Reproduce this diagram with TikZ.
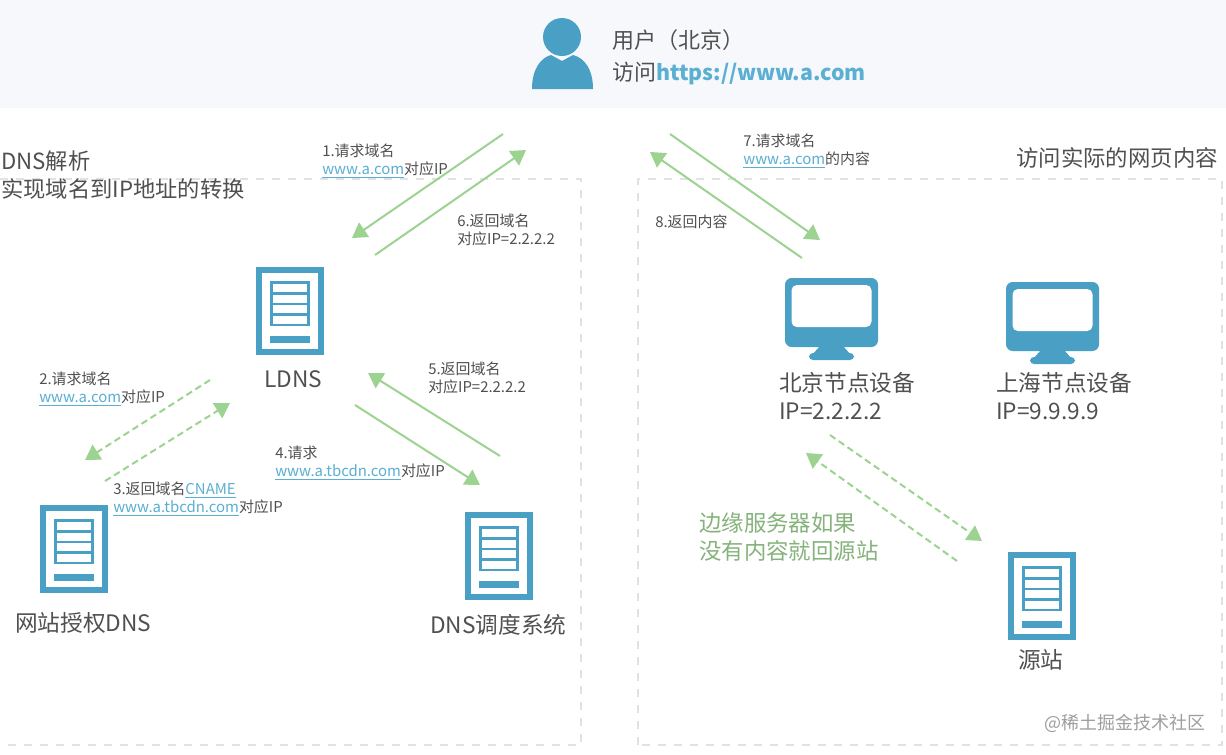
\documentclass[tikz,border=0pt]{standalone}
\usepackage{fontspec}
\setmainfont{Noto Sans CJK SC}
\usetikzlibrary{arrows.meta}
\definecolor{iconblue}{HTML}{4A9FC5}
\definecolor{arrowgreen}{HTML}{9CD391}
\definecolor{textgrey}{HTML}{505050}
\definecolor{linkblue}{HTML}{5AAFD2}
\definecolor{bandgrey}{HTML}{F6F8FB}
\definecolor{boxgrey}{HTML}{E2E2E2}
\newcommand{\lnk}[1]{\textcolor{linkblue}{\underline{#1}}}
\tikzset{
  big/.style={anchor=north west, align=left, inner sep=0pt, text=textgrey, font=\fontsize{17pt}{21pt}\selectfont},
  small/.style={anchor=north west, align=left, inner sep=0pt, text=textgrey, font=\fontsize{11.2pt}{13.5pt}\selectfont},
  ans/.style={draw=arrowgreen, line width=1.5pt, -{Triangle[length=11pt,width=13pt]}},
  ansd/.style={ans, dash pattern=on 5pt off 3pt},
  box/.style={draw=boxgrey, line width=1pt, dash pattern=on 6pt off 6pt},
  serverico/.pic={
    \fill[iconblue] (0,0) rectangle (68,88);
    \fill[white] (6,6) rectangle (62,82);
    \fill[iconblue] (14,14) rectangle (54,59);
    \foreach \r in {17,27.5,38,48.5} \fill[white] (17,\r) rectangle (51,\r+8);
    \fill[iconblue] (14,69) rectangle (54,76);
  },
  monitorico/.pic={
    \fill[iconblue, rounded corners=5pt] (0,0) rectangle (93,69);
    \fill[white, rounded corners=4pt] (6.5,7) rectangle (86.5,49);
    \fill[iconblue] (35,68) -- (58,68) -- (66,77) -- (27,77) -- cycle;
    \fill[iconblue, rounded corners=3pt] (24,75) rectangle (69,82);
  }
}
\begin{document}
\begin{tikzpicture}[x=.75pt,y=-.75pt]
 \useasboundingbox (0,0) rectangle (1226,754);
 \fill[white] (0,0) rectangle (1226,754);
 \fill[bandgrey] (0,0) rectangle (1226,108);
 % dashed frames
 \draw[box] (0,179) -- (581,179) -- (581,745) -- (0,745);
 \draw[box] (638,745) -- (638,179) -- (1222,179) -- (1222,745) -- cycle;
 % user
 \fill[iconblue] (562,37) circle (19);
 \fill[iconblue] (532,89) .. controls (532,70) and (540,58) .. (551,55) -- (562,61) -- (573,55) .. controls (585,58) and (593,70) .. (593,89) -- cycle;
 \node (user) [big, font=\fontsize{16.5pt}{24pt}\selectfont] at (612,29) {用户（北京）\\访问\textcolor{linkblue}{\fontsize{16pt}{24pt}\selectfont\textbf{https://www.a.com}}};
 % titles
 \node (dnstitle) [big, font=\fontsize{16.7pt}{21pt}\selectfont] at (1,150) {DNS解析\\实现域名到IP地址的转换};
 \node (webtitle) [big, font=\fontsize{16.8pt}{21pt}\selectfont] at (1016,147) {访问实际的网页内容};
 % devices
 \pic (ldnsico) at (256,267) {serverico};
 \pic (authico) at (40,505) {serverico};
 \pic (schedico) at (465,512) {serverico};
 \pic (originico) at (1008,552) {serverico};
 \pic (bjico) at (785,278) {monitorico};
 \pic (shico) at (1006,282) {monitorico};
 \node (ldns) [big] at (264,370) {LDNS};
 \node (auth) [big] at (15,612) {网站授权DNS};
 \node (sched) [big] at (430,614) {DNS调度系统};
 \node (origin) [big] at (1018,649) {源站};
 \node (bj) [big] at (779,372) {北京节点设备\\IP=2.2.2.2};
 \node (sh) [big] at (996,372) {上海节点设备\\IP=9.9.9.9};
 \node (edge) [big, text=arrowgreen!85!black, font=\fontsize{16.8pt}{21pt}\selectfont] at (699,512) {边缘服务器如果\\没有内容就回源站};
 \node (mark) [big, text=black!38, font=\fontsize{13.5pt}{15pt}\selectfont] at (1044,714) {@稀土掘金技术社区};
 % step labels
 \node (s1) [small] at (322,144) {1.请求域名\\\lnk{www.a.com}对应IP};
 \node (s2) [small] at (39,372) {2.请求域名\\\lnk{www.a.com}对应IP};
 \node (s3) [small] at (113,482) {3.返回域名\lnk{CNAME}\\\lnk{www.a.tbcdn.com}对应IP};
 \node (s4) [small] at (275,446) {4.请求\\\lnk{www.a.tbcdn.com}对应IP};
 \node (s5) [small] at (428,362) {5.返回域名\\对应IP=2.2.2.2};
 \node (s6) [small] at (457,214) {6.返回域名\\对应IP=2.2.2.2};
 \node (s7) [small] at (743,134) {7.请求域名\\\lnk{www.a.com}的内容};
 \node (s8) [small] at (655,215) {8.返回内容};
 % free arrow ends
 \coordinate (a1) at (503,134); \coordinate (b1) at (352,238);
 \coordinate (a2) at (210,380); \coordinate (b2) at (85,460);
 \coordinate (a3) at (105,481); \coordinate (b3) at (230,403);
 \coordinate (a4) at (355,405); \coordinate (b4) at (480,485);
 \coordinate (a5) at (500,456); \coordinate (b5) at (368,373);
 \coordinate (a6) at (375,255); \coordinate (b6) at (526,150);
 \coordinate (a7) at (670,134); \coordinate (b7) at (820,240);
 \coordinate (a8) at (802,258); \coordinate (b8) at (650,152);
 \coordinate (a9) at (830,435); \coordinate (b9) at (982,541);
 \coordinate (a10) at (957,561); \coordinate (b10) at (806,453);
 \foreach \i in {1,4,5,6,7,8} \draw[ans] (a\i) -- (b\i);
 \foreach \i in {2,3,9,10} \draw[ansd] (a\i) -- (b\i);
\end{tikzpicture}
\end{document}
